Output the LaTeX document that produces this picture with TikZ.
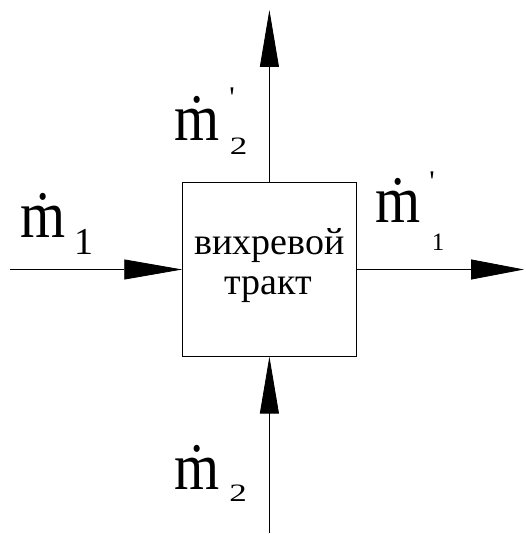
\documentclass[tikz,border=0pt]{standalone}
\usepackage{fontspec}
\setmainfont{LiberationSerif}[Extension=.ttf,UprightFont=*-Regular,BoldFont=*-Bold,ItalicFont=*-Italic,BoldItalicFont=*-BoldItalic]
\usepackage{graphicx}
\usetikzlibrary{arrows.meta}
\tikzset{
  x=1pt, y=1pt,
  flowL/.style={line width=0.8pt, -{Triangle[length=58pt,width=20pt]}},
  flowR/.style={line width=0.8pt, -{Triangle[length=53pt,width=20pt]}},
  flowV/.style={line width=0.8pt, -{Triangle[length=57pt,width=19pt]}},
  mnode/.style={inner sep=0pt, anchor=base, font=\fontsize{58pt}{58pt}\selectfont},
  bigsub/.style={inner sep=0pt, anchor=base, font=\fontsize{38pt}{38pt}\selectfont},
  smallsub/.style={inner sep=0pt, anchor=base, font=\fontsize{25pt}{25pt}\selectfont},
  primenode/.style={inner sep=0pt, anchor=north, font=\fontsize{30pt}{30pt}\selectfont},
  boxtext/.style={inner sep=0pt, anchor=base, font=\fontsize{38pt}{38pt}\selectfont},
}
\newcommand{\mdotglyph}{\scalebox{1}[1.15]{\.{m}}}
\begin{document}
\begin{tikzpicture}
\useasboundingbox (0,0) rectangle (525,534);
% central box
\node[draw, line width=1pt, minimum width=173.3pt, minimum height=173.3pt, inner sep=0pt] (box) at (269.4,264.5) {};
\node[boxtext] (t1) at (269.5,279) {вихревой};
\node[boxtext] (t2) at (268.5,239) {тракт};
% end points
\coordinate (inL) at (10,264.5);
\coordinate (outR) at (524,264.5);
\coordinate (outT) at (269.4,524);
\coordinate (inB) at (269.4,1);
% connectors
\draw[flowL] (inL) -- (box.west);
\draw[flowR] (box.east) -- (outR);
\draw[flowV] (box.north) -- (outT);
\draw[flowV] (inB) -- (box.south);
% labels
\node[mnode] (m1) at (43,296) {\mdotglyph};
\node[bigsub] (s1) at (83.5,279) {1};
\node[mnode] (m1p) at (398,311) {\mdotglyph};
\node[primenode] (p1) at (432,362) {\textquotesingle};
\node[smallsub] (s1p) at (438,283) {1};
\node[mnode] (m2p) at (197.5,393) {\mdotglyph};
\node[primenode] (p2) at (232,446) {\textquotesingle};
\node[smallsub] (s2p) at (238.5,379) {\scalebox{1.4}[1]{2}};
\node[mnode] (m2) at (197,44) {\mdotglyph};
\node[smallsub] (s2) at (238,32) {\scalebox{1.4}[1]{2}};
\end{tikzpicture}
\end{document}
